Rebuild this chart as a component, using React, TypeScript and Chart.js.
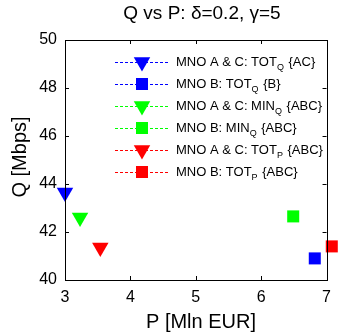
import React, { useEffect, useRef } from "react";
import { Chart, registerables } from "chart.js";
Chart.register(...registerables);

const seriesMain = ["MNO A & C: TOT", "MNO B: TOT", "MNO A & C: MIN", "MNO B: MIN", "MNO A & C: TOT", "MNO B: TOT"];
const seriesSub = ["Q", "Q", "Q", "Q", "P", "P"];
const seriesSuffix = [" {AC}", " {B}", " {ABC}", " {ABC}", " {ABC}", " {ABC}"];
const seriesP = [3.0, 6.82, 3.23, 6.49, 3.54, 7.08];
const seriesQ = [43.65, 40.9, 42.6, 42.65, 41.35, 41.4];
const seriesColors = ["#0000ff", "#0000ff", "#00ff00", "#00ff00", "#ff0000", "#ff0000"];
const seriesShapes = ["triangle", "rect", "triangle", "rect", "triangle", "rect"];
const xTicks = [3, 4, 5, 6, 7];
const yTicks = [40, 42, 44, 46, 48, 50];
const titleText = "Q vs P: δ=0.2, γ=5";
const xTitle = "P [Mln EUR]";
const yTitle = "Q [Mbps]";

const FONT = "'Liberation Sans', Arial, Helvetica, sans-serif";

const decorPlugin = {
  id: "decor",
  afterDraw(chart: any) {
    const ctx = chart.ctx;
    const a = chart.chartArea;
    const xs = chart.scales.x;
    const ys = chart.scales.y;
    ctx.save();
    ctx.strokeStyle = "#000";
    ctx.lineWidth = 1;
    ctx.setLineDash([]);
    ctx.strokeRect(Math.round(a.left) + 0.5, Math.round(a.top) + 0.5, Math.round(a.right - a.left), Math.round(a.bottom - a.top));
    const tl = 4;
    ctx.beginPath();
    xTicks.forEach((v) => {
      const px = Math.round(xs.getPixelForValue(v)) + 0.5;
      ctx.moveTo(px, a.bottom); ctx.lineTo(px, a.bottom - tl);
      ctx.moveTo(px, a.top); ctx.lineTo(px, a.top + tl);
    });
    yTicks.forEach((v) => {
      const py = Math.round(ys.getPixelForValue(v)) + 0.5;
      ctx.moveTo(a.left, py); ctx.lineTo(a.left + tl, py);
      ctx.moveTo(a.right, py); ctx.lineTo(a.right - tl, py);
    });
    ctx.stroke();

    ctx.fillStyle = "#000";
    ctx.textAlign = "center";
    ctx.textBaseline = "middle";
    ctx.font = `19px ${FONT}`;
    ctx.fillText(titleText, 202, 14);
    ctx.font = `20px ${FONT}`;
    ctx.fillText(xTitle, 201, 322);
    ctx.save();
    ctx.translate(20, 157);
    ctx.rotate(-Math.PI / 2);
    ctx.fillText(yTitle, 0, 0);
    ctx.restore();

    // legend
    const lineX0 = 115, lineX1 = 170, markX = 142, textX = 176;
    seriesMain.forEach((m, i) => {
      const y = 62 + i * 22;
      ctx.strokeStyle = seriesColors[i];
      ctx.lineWidth = 1;
      ctx.setLineDash([3, 2]);
      ctx.beginPath();
      ctx.moveTo(lineX0, y + 0.5); ctx.lineTo(lineX1, y + 0.5);
      ctx.stroke();
      ctx.setLineDash([]);
      ctx.fillStyle = seriesColors[i];
      ctx.beginPath();
      if (seriesShapes[i] === "triangle") {
        const r = 9.5;
        ctx.moveTo(markX - r * 0.866, y - r * 0.5);
        ctx.lineTo(markX + r * 0.866, y - r * 0.5);
        ctx.lineTo(markX, y + r);
      } else {
        const h = 6;
        ctx.rect(markX - h, y - h, 2 * h, 2 * h);
      }
      ctx.closePath();
      ctx.fill();
      ctx.fillStyle = "#000";
      ctx.textAlign = "left";
      ctx.textBaseline = "middle";
      ctx.font = `13px ${FONT}`;
      ctx.fillText(m, textX, y);
      let x = textX + ctx.measureText(m).width;
      ctx.font = `9px ${FONT}`;
      ctx.fillText(seriesSub[i], x, y + 6);
      x += ctx.measureText(seriesSub[i]).width + 1;
      ctx.font = `13px ${FONT}`;
      ctx.fillText(seriesSuffix[i], x, y);
    });
    ctx.restore();
  },
};

export default function App() {
  const ref = useRef<HTMLCanvasElement>(null);
  useEffect(() => {
    document.body.style.margin = "0";
    const datasets = seriesMain.map((m, i) => ({
      label: m + seriesSub[i] + seriesSuffix[i],
      data: [{ x: seriesP[i], y: seriesQ[i] }],
      backgroundColor: seriesColors[i],
      borderColor: seriesColors[i],
      borderWidth: 0,
      pointStyle: seriesShapes[i],
      pointRadius: seriesShapes[i] === "triangle" ? 9.5 : 8.5,
      pointRotation: seriesShapes[i] === "triangle" ? 180 : 0,
      clip: false as any,
    }));
    const chart = new Chart(ref.current!, {
      type: "scatter",
      data: { datasets },
      options: {
        animation: false,
        responsive: false,
        devicePixelRatio: 1,
        layout: { padding: { left: 0, right: 7, top: 40, bottom: 0 } },
        plugins: { legend: { display: false }, title: { display: false }, tooltip: { enabled: false } },
        scales: {
          x: {
            type: "linear",
            min: 3,
            max: 7,
            afterBuildTicks: (s: any) => { s.ticks = xTicks.map((v) => ({ value: v })); },
            afterFit: (s: any) => { s.height = 55; },
            grid: { display: false, drawTicks: false },
            border: { display: false },
            ticks: { color: "#000", padding: 8, font: { family: FONT, size: 16 }, maxRotation: 0 },
          },
          y: {
            type: "linear",
            min: 40,
            max: 50,
            afterBuildTicks: (s: any) => { s.ticks = yTicks.map((v) => ({ value: v })); },
            afterFit: (s: any) => { s.width = 65; },
            grid: { display: false, drawTicks: false },
            border: { display: false },
            ticks: { color: "#000", padding: 8, font: { family: FONT, size: 16 } },
          },
        },
      },
      plugins: [decorPlugin],
    });
    return () => chart.destroy();
  }, []);
  return (
    <div style={{ position: "absolute", left: 0, top: 0, width: 339, height: 335, background: "#fff" }}>
      <canvas ref={ref} width={339} height={335} style={{ width: 339, height: 335 }} />
    </div>
  );
}
